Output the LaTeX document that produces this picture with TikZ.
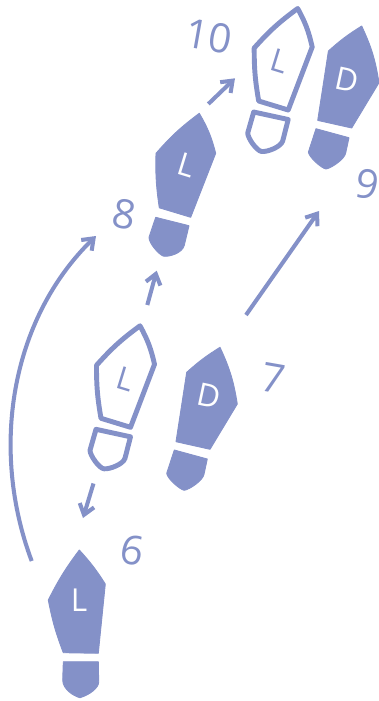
\documentclass[tikz,border=0pt]{standalone}
\usepackage{fontspec}
\setmainfont{Open Sans}
\usetikzlibrary{arrows.meta}
\definecolor{stepblue}{RGB}{132,145,200}

\begin{document}
\begin{tikzpicture}[
  x=0.02cm, y=-0.02cm,
  solid/.style={fill=stepblue, draw=stepblue, line width=0.5pt, line join=round},
  open/.style={draw=stepblue, fill=white, line width=2.8pt, line join=round},
  stepnum/.style={text=stepblue, font=\fontsize{23}{23}\selectfont, inner sep=0pt, rotate=-10},
  footin/.style={text=white, font=\fontsize{18}{18}\selectfont, inner sep=0pt},
  footout/.style={text=stepblue, font=\fontsize{18}{18}\selectfont, inner sep=0pt},
  move/.style={draw=stepblue, line width=2.3pt, -{Straight Barb[length=2mm, width=3mm]}},
  straightfoot/.pic={
    \path[pic actions] (0,0) to[bend left=5] (26,34) -- (19,103.3) -- (-16,102.7) to[bend left=5] (-31,50) to[bend left=5] cycle;
    \path[pic actions] (-16,111.7) -- (19,111.7) -- (19.4,132) .. controls (19.4,138) and (10,145) .. (0.7,147.7)
      .. controls (-6,146) and (-16.6,139) .. (-16.6,130) -- cycle;
  },
  tiltfoot/.pic={
    \path[pic actions] (0,0) to[bend left=8] (16.4,40) -- (-8.6,104) -- (-40,94.5) to[bend left=5] (-43.3,40) to[bend left=6] cycle;
    \path[pic actions] (-43.6,104) -- (-10.3,112.4) -- (-15,132) .. controls (-17,140) and (-30,143.5) .. (-35.3,143)
      .. controls (-40,142) and (-50.5,130) .. (-50.3,124) -- cycle;
  },
  openfoot/.pic={
    \path[pic actions] (0,2.5) to[bend left=8] (14.5,41) -- (-9.5,104) -- (-39,95) to[bend left=5] (-43.5,42) to[bend left=6] cycle;
    \path[pic actions] (-44,106) -- (-9.5,113.5) -- (-15,135) .. controls (-17,141) and (-30,146) .. (-36,145.5)
      .. controls (-41,145) and (-50,132) .. (-50,127) -- cycle;
  },
  rightfoot/.pic={
    \path[pic actions] (0,0) to[bend left=8] (17.3,56.7) -- (-10,102) -- (-44,94.4) -- (-33.3,25) to[bend left=5] cycle;
    \path[pic actions] (-45.7,102.7) -- (-12.7,111.7) -- (-16,127) .. controls (-17,133) and (-30,142) .. (-35.7,143)
      .. controls (-40,142.5) and (-53,131) .. (-53.3,126) -- cycle;
  }
]
\useasboundingbox (0,0) rectangle (379,701);

% Footprints
\pic[solid] at (79.3,550) {straightfoot};
\pic[open] at (140,323.3) {openfoot};
\pic[solid] at (220,347.3) {rightfoot};
\pic[solid] at (199.3,113.3) {tiltfoot};
\pic[open] at (297.7,6) {openfoot};
\pic[solid] at (361.7,26) {rightfoot};

% Letters on the soles
\node[footin] (six) at (79,600) {L};
\node[footout, rotate=-17] (sevenleft) at (125.7,379.3) {L};
\node[footin, rotate=-17] (eight) at (187,165) {L};
\node[footin, rotate=-12] (sevenright) at (209.3,396) {D};
\node[footout, rotate=-17] (ten) at (279.3,60.7) {L};
\node[footin, rotate=-12] (nine) at (347,80) {D};

% Step numbers
\node[stepnum] (num6) at (132,550) {6};
\node[stepnum] (num7) at (273,378) {7};
\node[stepnum] (num8) at (124,214) {8};
\node[stepnum] (num9) at (367,184) {9};
\node[stepnum] (num10) at (209,36) {10};

% Moves
\coordinate (a1) at (31.7,561);
\coordinate (a2) at (96,236);
\coordinate (b1) at (93.5,483.5);
\coordinate (b2) at (83,518);
\coordinate (c1) at (147.3,305);
\coordinate (c2) at (156.7,270.7);
\coordinate (d1) at (246,315);
\coordinate (d2) at (319,211);
\coordinate (e1) at (208.3,104);
\coordinate (e2) at (235,78.3);
\draw[move] (a1) .. controls (-10,450) and (10,320) .. (a2);
\draw[move] (b1) -- (b2);
\draw[move] (c1) -- (c2);
\draw[move] (d1) -- (d2);
\draw[move] (e1) -- (e2);

\end{tikzpicture}
\end{document}
